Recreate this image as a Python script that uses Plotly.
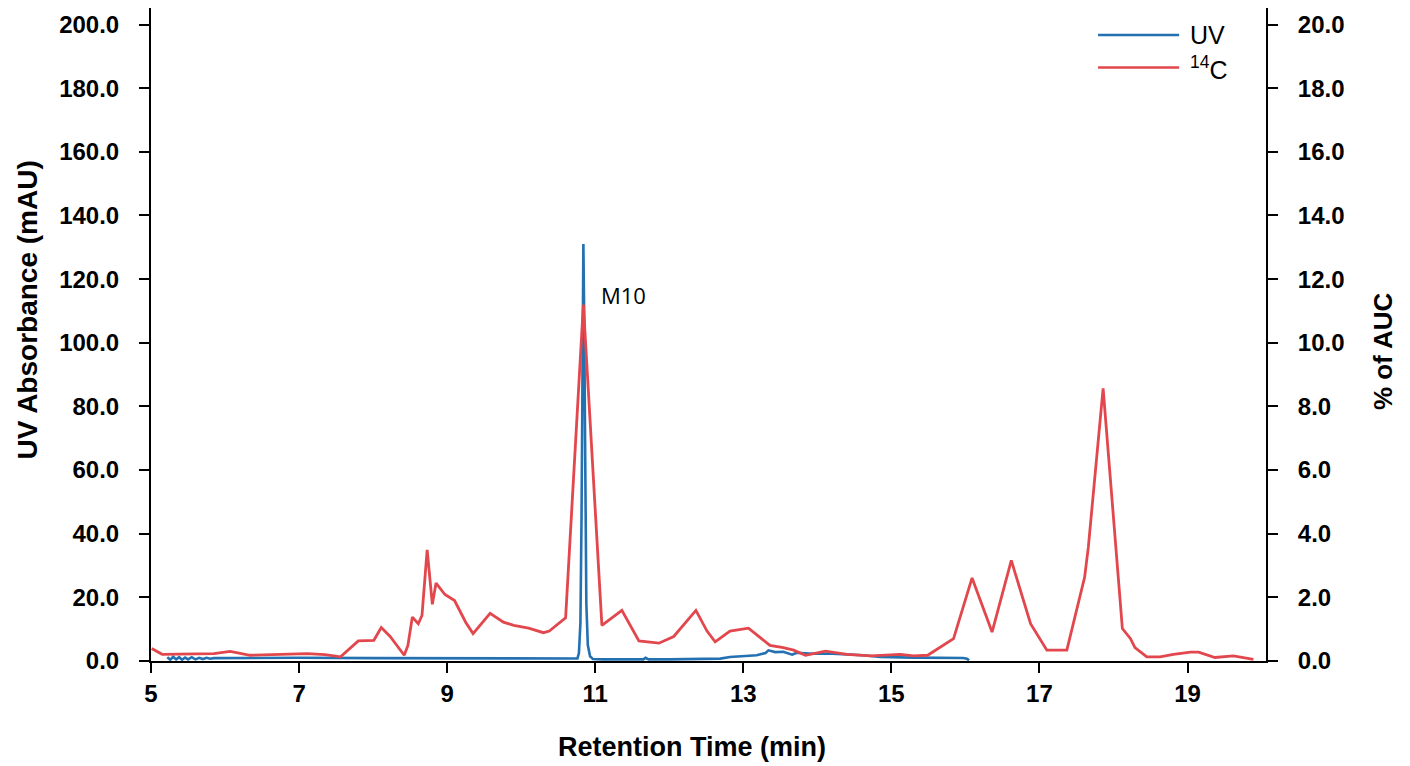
import plotly.graph_objects as go

# ---------------- data ----------------
uv_time = [5.22, 5.26, 5.30, 5.34, 5.38, 5.42, 5.46, 5.50, 5.55, 5.60, 5.65, 5.70, 5.75, 5.80, 5.85,
           6.2, 7.0, 8.0, 9.0, 10.0, 10.5, 10.70, 10.76, 10.78, 10.80, 10.815, 10.83, 10.84, 10.85,
           10.865, 10.88, 10.90, 10.93, 10.97, 11.1, 11.5, 11.65, 11.68, 11.72, 12.0, 12.5, 12.69,
           12.82, 13.0, 13.18, 13.30, 13.34, 13.43, 13.54, 13.66, 13.72, 13.95, 14.2, 14.62, 14.85,
           15.3, 15.97, 16.02, 16.05]
uv_mau = [1.2, 0.4, 1.3, 0.5, 1.2, 0.4, 1.1, 0.5, 1.2, 0.5, 1.0, 0.6, 1.0, 0.7, 0.9,
          1.0, 1.0, 0.9, 0.8, 0.7, 0.6, 0.6, 0.8, 2.5, 12, 45, 105, 131, 110,
          55, 18, 5, 1.5, 0.6, 0.5, 0.5, 0.5, 1.0, 0.5, 0.5, 0.6, 0.75,
          1.25, 1.6, 1.8, 2.5, 3.35, 2.8, 2.9, 2.0, 2.6, 2.3, 2.3, 1.8, 1.25,
          1.05, 0.95, 0.7, 0.2]

c14_time = [5.01, 5.15, 5.85, 6.07, 6.34, 7.11, 7.35, 7.56, 7.80, 8.01, 8.11, 8.23, 8.42, 8.47,
            8.53, 8.61, 8.66, 8.73, 8.80, 8.85, 8.97, 9.10, 9.25, 9.35, 9.58, 9.76, 9.90, 10.10,
            10.30, 10.38, 10.60, 10.84, 11.09, 11.36, 11.59, 11.86, 12.06, 12.36, 12.51, 12.62,
            12.82, 13.07, 13.36, 13.54, 13.68, 13.84, 14.11, 14.40, 14.72, 15.12, 15.30, 15.49,
            15.84, 16.09, 16.36, 16.62, 16.88, 17.10, 17.37, 17.61, 17.66, 17.86, 18.12, 18.23,
            18.29, 18.45, 18.63, 18.81, 19.04, 19.15, 19.37, 19.62, 19.89]
c14_pct = [0.39, 0.21, 0.23, 0.30, 0.18, 0.23, 0.20, 0.13, 0.63, 0.65, 1.05, 0.77, 0.18, 0.49,
           1.38, 1.17, 1.43, 3.49, 1.78, 2.45, 2.09, 1.90, 1.22, 0.86, 1.50, 1.22, 1.12, 1.03,
           0.89, 0.94, 1.36, 11.2, 1.12, 1.59, 0.63, 0.56, 0.77, 1.59, 0.94, 0.60,
           0.94, 1.03, 0.49, 0.42, 0.34, 0.18, 0.31, 0.21, 0.16, 0.21, 0.16, 0.18,
           0.70, 2.61, 0.91, 3.16, 1.17, 0.34, 0.34, 2.63, 3.57, 8.57, 1.02, 0.70,
           0.42, 0.13, 0.13, 0.21, 0.28, 0.28, 0.11, 0.16, 0.05]

x_ticks = [5, 7, 9, 11, 13, 15, 17, 19]
left_ticks = [0, 20, 40, 60, 80, 100, 120, 140, 160, 180, 200]
right_ticks = [0, 2, 4, 6, 8, 10, 12, 14, 16, 18, 20]

series_names = ["UV", "<sup>14</sup>C"]
x_title = "Retention Time (min)"
y_title = "UV Absorbance (mAU)"
y2_title = "% of AUC"
peak_label = "M10"
peak_label_pos = (11.05, 115)

UV_COLOR = "#2471b2"
C14_COLOR = "#e2474d"
FONT = "Liberation Sans, Arial, sans-serif"

fig = go.Figure()
fig.add_trace(go.Scatter(x=uv_time, y=uv_mau, mode="lines", name="UV",
                         line=dict(color=UV_COLOR, width=2.6), yaxis="y", showlegend=False))
fig.add_trace(go.Scatter(x=c14_time, y=c14_pct, mode="lines", name="14C",
                         line=dict(color=C14_COLOR, width=2.8), yaxis="y2", showlegend=False))

axis_common = dict(showgrid=False, zeroline=False, showline=True, linecolor="black", linewidth=2,
                   ticks="outside", ticklen=10, tickwidth=2, tickcolor="black",
                   tickfont=dict(family=FONT, size=24, color="black", weight="bold"))

fig.update_layout(
    width=1402, height=758,
    margin=dict(l=143, r=144, t=0, b=105),
    plot_bgcolor="white", paper_bgcolor="white",
    xaxis=dict(range=[5, 20.06], tickvals=x_ticks, ticktext=[str(v) for v in x_ticks],
               ticklabelstandoff=0, **axis_common),
    yaxis=dict(range=[0, 205.2], tickvals=left_ticks, tickformat=".1f",
               ticklabelstandoff=15, **axis_common),
    yaxis2=dict(range=[0, 20.52], tickvals=right_ticks, tickformat=".1f", overlaying="y",
                side="right", ticklabelstandoff=15, **axis_common),
)

# axis titles (placed as in the reference, which are not centred on the plot area)
title_specs = [
    (x_title, 0.4853, -0.1322, 0, 27),
    (y_title, -0.1109, 0.5373, -90, 28),
    (y2_title, 1.1049, 0.4745, -90, 26),
]
for text, xp, yp, ang, size in title_specs:
    fig.add_annotation(xref="paper", yref="paper", x=xp, y=yp, text=text, showarrow=False,
                       textangle=ang, xanchor="center", yanchor="middle",
                       font=dict(family=FONT, size=size, color="black", weight="bold"))

# peak label
fig.add_annotation(x=peak_label_pos[0], y=peak_label_pos[1], xref="x", yref="y", text=peak_label,
                   showarrow=False, xanchor="left", yanchor="middle",
                   font=dict(family="Open Sans, sans-serif", size=22, color="black"))

# manual legend (long line samples as in the reference)
legend_rows = [(0.9587, UV_COLOR, series_names[0]), (0.9087, C14_COLOR, series_names[1])]
for ypos, col, label in legend_rows:
    fig.add_shape(type="line", xref="paper", yref="paper", x0=0.8494, x1=0.9221, y0=ypos, y1=ypos,
                  line=dict(color=col, width=2.5))
    fig.add_annotation(xref="paper", yref="paper", x=0.930, y=ypos, text=label, showarrow=False,
                       xanchor="left", yanchor="middle",
                       font=dict(family=FONT, size=25, color="black"))

fig.write_html("out.html")
